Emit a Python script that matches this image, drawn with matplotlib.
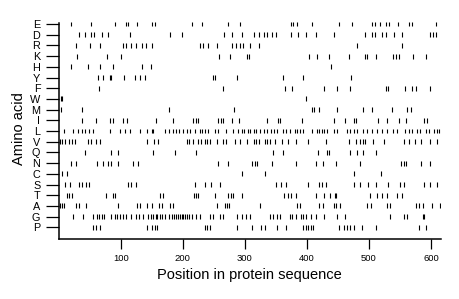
import matplotlib
matplotlib.use("Agg")
import matplotlib.pyplot as plt

plt.rcParams['font.family'] = ['Liberation Sans', 'DejaVu Sans']

# amino acids, top row first
amino_acids = ['E', 'D', 'R', 'K', 'H', 'Y', 'F', 'W', 'M', 'I',
               'L', 'V', 'Q', 'N', 'C', 'S', 'T', 'A', 'G', 'P']

# positions of each residue in the sequence
pos_E = [20, 52, 90, 108, 112, 126, 151, 155, 214, 231, 272, 292, 374, 378, 384, 408,
         452, 473, 505, 509, 517, 527, 532, 546, 565, 569, 608]
pos_D = [32, 43, 52, 57, 70, 80, 115, 180, 199, 266, 280, 295, 315, 322, 330, 336, 343,
         350, 374, 385, 399, 415, 443, 494, 505, 509, 521, 527, 540, 553, 599, 603, 608]
pos_R = [28, 50, 66, 103, 109, 116, 124, 134, 140, 150, 228, 233, 240, 255, 280, 286,
         292, 297, 308, 322, 480, 553]
pos_K = [30, 78, 101, 259, 276, 304, 306, 404, 416, 436, 467, 494, 496, 511, 538, 544,
         548, 571, 592]
pos_H = [19, 48, 66, 88, 134, 148, 438]
pos_Y = [63, 71, 82, 85, 105, 123, 131, 139, 248, 252, 288, 362, 394, 471]
pos_F = [65, 264, 365, 376, 427, 448, 470, 528, 531, 558, 570, 575, 599]
pos_W = [3, 6, 399]
pos_M = [4, 38, 177, 282, 408, 411, 419, 448, 491, 505, 537, 561, 568]
pos_I = [37, 60, 82, 88, 104, 110, 157, 184, 217, 221, 225, 257, 262, 265, 280, 291,
         335, 353, 357, 392, 444, 461, 475, 479, 515, 529, 548, 559, 588, 594]
pos_L = [8, 23, 31, 37, 42, 49, 56, 82, 99, 107, 115, 131, 142, 150, 152, 171, 178, 184,
         189, 194, 200, 206, 212, 220, 227, 231, 236, 241, 252, 257, 270, 281, 289, 295,
         299, 305, 308, 314, 318, 324, 330, 336, 342, 347, 352, 362, 367, 373, 380, 384,
         389, 394, 408, 416, 420, 424, 428, 432, 443, 448, 464, 470, 475, 480, 491, 496,
         505, 513, 521, 529, 539, 545, 558, 564, 569, 577, 582, 591, 596, 604, 609, 612]
pos_V = [2, 6, 10, 17, 22, 26, 48, 52, 60, 66, 142, 154, 160, 206, 210, 217, 225, 230,
         236, 239, 244, 255, 264, 270, 284, 292, 303, 314, 318, 322, 332, 336, 341, 349,
         359, 370, 382, 401, 431, 467, 479, 486, 491, 494, 507, 524, 556, 564, 574, 584,
         599, 609]
pos_Q = [42, 85, 96, 152, 187, 222, 345, 362, 418, 432, 436, 470, 480, 491, 511]
pos_N = [19, 28, 61, 72, 80, 85, 96, 120, 128, 257, 273, 311, 316, 320, 343, 382, 415,
         426, 447, 486, 551, 556, 560, 583, 599]
pos_C = [6, 14, 295, 332, 475, 519]
pos_S = [10, 18, 33, 38, 44, 49, 112, 117, 124, 220, 236, 246, 260, 350, 358, 366, 402,
         419, 424, 431, 475, 486, 499, 511, 531, 550, 556, 588, 599, 609]
pos_T = [14, 17, 21, 76, 87, 91, 163, 168, 218, 221, 225, 252, 273, 277, 281, 295, 363,
         370, 375, 382, 415, 427, 437, 445, 447, 502, 513, 521, 529, 545, 553]
pos_A = [2, 6, 9, 28, 33, 44, 96, 126, 131, 142, 150, 162, 166, 179, 184, 255, 268, 271,
         275, 324, 384, 389, 420, 426, 443, 447, 454, 496, 503, 529, 533, 576, 581, 587,
         601, 614]
pos_G = [23, 39, 55, 61, 65, 69, 73, 85, 91, 94, 99, 104, 109, 117, 124, 130, 136, 144,
         149, 152, 156, 159, 163, 167, 171, 178, 182, 186, 189, 193, 195, 198, 201, 203,
         207, 210, 214, 222, 227, 244, 249, 260, 264, 287, 295, 302, 308, 341, 345, 351,
         357, 373, 376, 382, 390, 394, 399, 406, 414, 427, 448, 462, 534, 556, 561, 587,
         589]
pos_P = [55, 60, 67, 142, 151, 155, 159, 236, 239, 244, 288, 311, 326, 332, 352, 366,
         394, 399, 402, 406, 410, 452, 459, 465, 470, 475, 488, 511, 580, 591]

positions = [pos_E, pos_D, pos_R, pos_K, pos_H, pos_Y, pos_F, pos_W, pos_M, pos_I,
             pos_L, pos_V, pos_Q, pos_N, pos_C, pos_S, pos_T, pos_A, pos_G, pos_P]

x_ticks = [100, 200, 300, 400, 500, 600]

fig = plt.figure(figsize=(4.6, 2.99), dpi=100)
ax = fig.add_axes([0.1283, 0.1997, 0.8298, 0.7415])

n = len(amino_acids)
rows = [n - 1 - i for i in range(n)]
ax.eventplot(positions, lineoffsets=rows, linelengths=0.45,
             linewidths=0.8, colors='black')

ax.set_xlim(0.5, 615.5)
ax.set_ylim(-1.12, 19.6)
ax.set_yticks(rows)
ax.set_yticklabels(amino_acids, fontsize=7.8)
ax.set_xticks(x_ticks)
ax.set_xticklabels([str(t) for t in x_ticks], fontsize=6.8)

for s in ['top', 'right']:
    ax.spines[s].set_visible(False)
ax.spines['left'].set_bounds(-1.12, 19.1)
ax.spines['left'].set_linewidth(1.1)
ax.spines['bottom'].set_linewidth(1.1)
ax.tick_params(axis='y', length=9.5, width=0.9, pad=4)
ax.tick_params(axis='x', length=7.5, width=0.9, pad=3)

ax.set_xlabel('Position in protein sequence', fontsize=10.5, labelpad=4)
ax.set_ylabel('Amino acid', fontsize=10.5, labelpad=3)

fig.savefig('out.png', dpi=100, facecolor='white')
